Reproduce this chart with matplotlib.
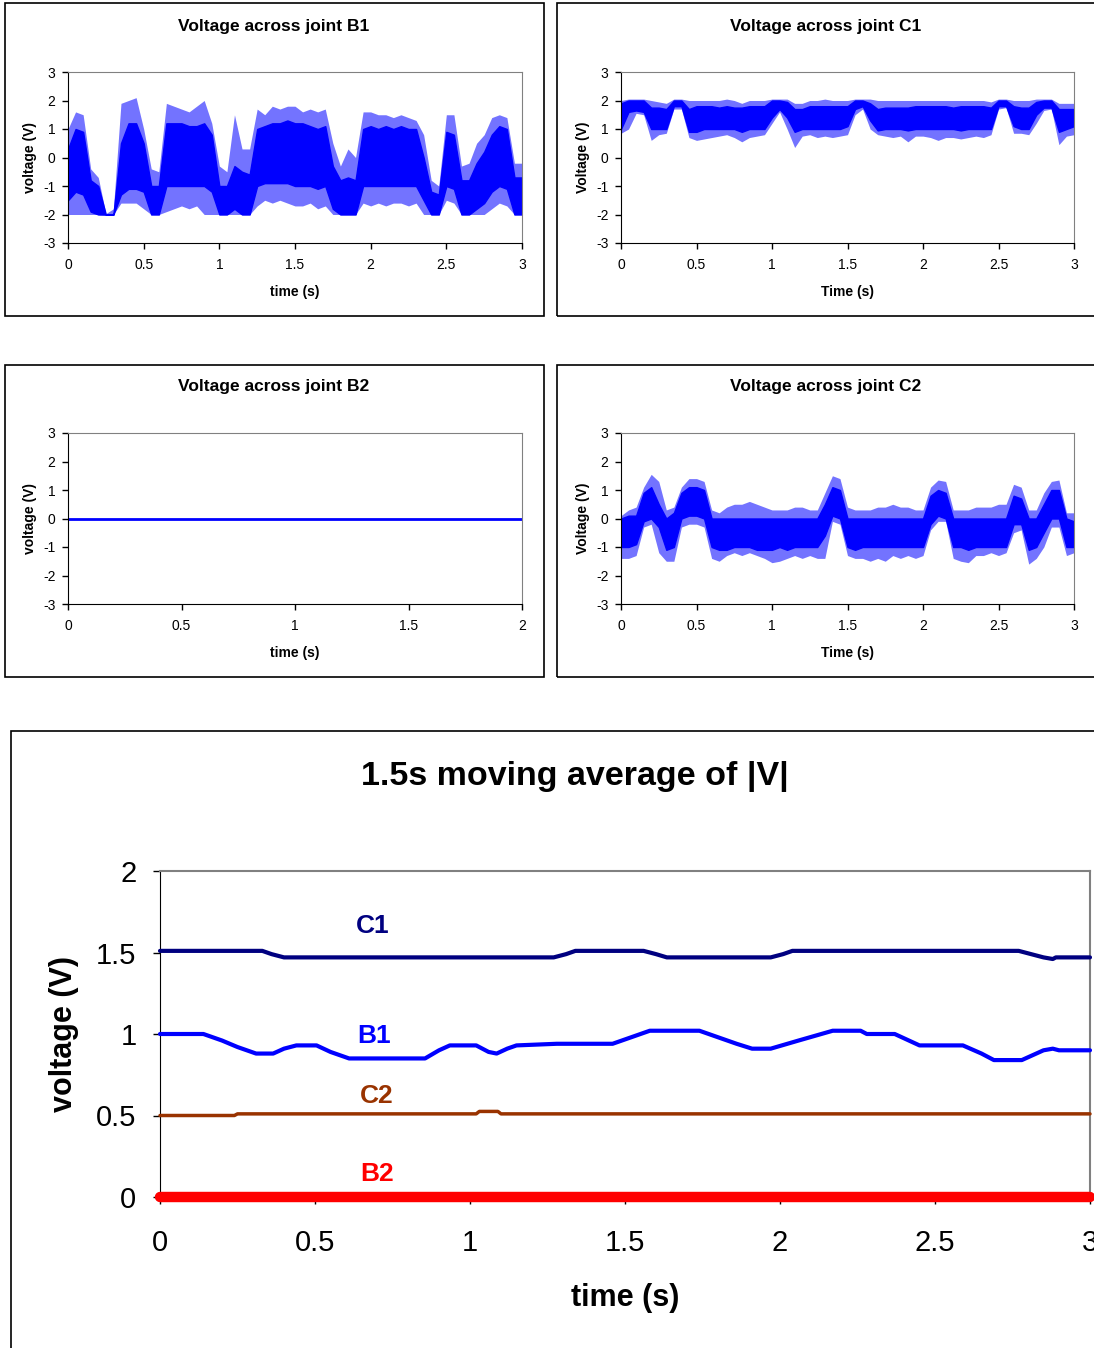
import matplotlib
matplotlib.use("Agg")
import matplotlib.pyplot as plt
import numpy as np
from matplotlib.patches import Rectangle
from matplotlib.ticker import FormatStrFormatter, MultipleLocator

plt.rcParams["font.family"] = ["Liberation Sans", "DejaVu Sans"]

# --- raw traces, read as envelopes every 0.05 s: spike top, dense band top/bottom, spike bottom ---
T_RAW = [round(0.05 * i, 2) for i in range(61)]

B1_HI = [1.0, 1.6, 1.5, -0.4, -0.7, -1.97, -1.8, 1.9, 2.0, 2.1, 1.0, -0.4, -0.5, 1.9, 1.8, 1.7,
         1.6, 1.8, 2.0, 1.2, -0.3, -0.5, 1.5, 0.3, 0.3, 1.7, 1.5, 1.8, 1.7, 1.8, 1.8, 1.6,
         1.7, 1.6, 1.7, 0.5, -0.3, 0.3, 0.0, 1.6, 1.6, 1.5, 1.5, 1.4, 1.5, 1.4, 1.3, 0.8,
         -0.8, -1.0, 1.5, 1.5, -0.3, -0.2, 0.5, 0.8, 1.4, 1.5, 1.4, -0.2, -0.2]
B1_CHI = [0.3, 1.0, 0.9, -0.8, -1.0, -2.0, -2.0, 0.5, 1.2, 1.2, 0.5, -1.0, -1.0, 1.2, 1.2, 1.2,
          1.1, 1.1, 1.2, 0.8, -1.0, -1.0, -0.3, -0.5, -0.6, 1.0, 1.1, 1.2, 1.2, 1.3, 1.2, 1.2,
          1.1, 1.0, 1.1, -0.3, -0.8, -0.7, -0.8, 1.0, 1.1, 1.0, 1.1, 1.0, 1.1, 1.0, 1.0, 0.0,
          -1.2, -1.3, 0.9, 0.8, -0.8, -0.8, -0.2, 0.2, 0.8, 1.1, 1.0, -0.7, -0.7]
B1_CLO = [-1.5, -1.2, -1.3, -1.9, -2.0, -2.0, -2.0, -1.3, -1.1, -1.1, -1.2, -2.0, -2.0, -1.0, -1.0, -1.0,
          -1.0, -1.0, -1.0, -1.2, -2.0, -2.0, -1.8, -2.0, -2.0, -1.0, -0.9, -0.9, -0.9, -0.9, -1.0, -1.0,
          -1.0, -1.1, -1.0, -1.8, -2.0, -2.0, -2.0, -1.0, -1.0, -1.0, -1.0, -1.0, -1.0, -1.0, -1.0, -1.5,
          -2.0, -2.0, -1.0, -1.1, -2.0, -2.0, -1.8, -1.6, -1.2, -1.0, -1.1, -2.0, -2.0]
B1_LO = [-2.0, -2.0, -2.0, -2.0, -2.0, -2.03, -2.0, -1.6, -1.6, -1.6, -1.8, -2.0, -2.0, -1.9, -1.8, -1.7,
         -1.8, -1.7, -2.0, -2.0, -2.0, -2.0, -2.0, -2.0, -2.0, -1.7, -1.5, -1.6, -1.5, -1.6, -1.7, -1.7,
         -1.6, -1.8, -1.7, -2.0, -2.0, -2.0, -2.0, -1.6, -1.7, -1.6, -1.7, -1.6, -1.6, -1.7, -1.6, -2.0,
         -2.0, -2.0, -1.5, -1.6, -2.0, -2.0, -2.0, -2.0, -1.8, -1.6, -1.7, -2.0, -2.0]

C1_HI = [2.0, 2.05, 2.05, 2.05, 2.0, 1.95, 1.9, 2.05, 2.05, 2.0, 2.0, 2.0, 2.0, 2.0, 2.05, 2.0,
         1.9, 2.0, 2.0, 2.0, 2.05, 2.05, 2.05, 1.9, 1.9, 2.0, 2.0, 2.05, 2.0, 2.0, 2.0, 2.05,
         2.05, 2.05, 2.0, 2.0, 2.0, 2.0, 2.0, 2.0, 2.0, 2.0, 2.0, 2.0, 2.0, 2.0, 2.0, 2.0,
         2.0, 1.95, 2.05, 2.05, 2.0, 2.0, 2.0, 2.05, 2.05, 2.05, 1.9, 1.9, 1.9]
C1_CHI = [1.9, 2.0, 2.0, 2.0, 1.75, 1.75, 1.7, 2.0, 2.0, 1.7, 1.8, 1.8, 1.8, 1.75, 1.8, 1.75,
          1.75, 1.8, 1.8, 1.8, 2.0, 2.0, 1.95, 1.7, 1.7, 1.8, 1.8, 1.8, 1.8, 1.8, 1.8, 2.0,
          2.0, 1.9, 1.7, 1.75, 1.75, 1.75, 1.75, 1.8, 1.8, 1.8, 1.8, 1.8, 1.75, 1.8, 1.8, 1.8,
          1.8, 1.75, 2.0, 2.0, 1.8, 1.75, 1.75, 1.95, 2.0, 2.0, 1.7, 1.7, 1.7]
C1_CLO = [1.0, 1.6, 1.65, 1.6, 1.0, 1.0, 1.0, 1.8, 1.8, 0.9, 0.9, 1.0, 1.0, 1.0, 1.0, 1.0,
          0.9, 1.0, 1.0, 1.0, 1.4, 1.7, 1.4, 0.9, 1.0, 1.0, 1.0, 1.0, 1.0, 1.0, 1.1, 1.7,
          1.8, 1.3, 0.95, 1.0, 1.0, 1.0, 0.95, 1.0, 1.0, 1.0, 1.0, 1.0, 1.0, 0.95, 1.0, 1.0,
          1.0, 1.0, 1.8, 1.8, 1.1, 1.0, 1.0, 1.5, 1.75, 1.75, 0.9, 1.0, 1.1]
C1_LO = [0.85, 1.0, 1.55, 1.5, 0.6, 0.8, 0.85, 1.7, 1.7, 0.7, 0.6, 0.65, 0.7, 0.75, 0.8, 0.7,
         0.55, 0.7, 0.75, 0.8, 1.2, 1.6, 1.0, 0.35, 0.75, 0.8, 0.7, 0.75, 0.7, 0.75, 0.8, 1.5,
         1.7, 1.0, 0.8, 0.75, 0.7, 0.75, 0.55, 0.75, 0.75, 0.7, 0.6, 0.7, 0.7, 0.65, 0.7, 0.75,
         0.7, 0.8, 1.7, 1.75, 0.85, 0.85, 0.8, 1.2, 1.65, 1.7, 0.45, 0.75, 0.8]

C2_HI = [0.1, 0.3, 0.4, 1.1, 1.55, 1.3, 0.3, 0.4, 1.1, 1.4, 1.4, 1.3, 0.3, 0.2, 0.4, 0.5,
         0.5, 0.6, 0.5, 0.4, 0.3, 0.3, 0.3, 0.4, 0.4, 0.3, 0.3, 0.9, 1.5, 1.4, 0.4, 0.3,
         0.3, 0.3, 0.4, 0.4, 0.5, 0.4, 0.4, 0.3, 0.3, 1.1, 1.35, 1.3, 0.3, 0.3, 0.3, 0.4,
         0.4, 0.4, 0.5, 0.5, 1.2, 1.1, 0.3, 0.3, 0.9, 1.3, 1.35, 0.2, 0.2]
C2_CHI = [0.0, 0.1, 0.1, 0.9, 1.1, 0.5, 0.0, 0.2, 0.9, 1.1, 1.1, 1.0, 0.0, 0.0, 0.0, 0.0,
          0.0, 0.0, 0.0, 0.0, 0.0, 0.0, 0.0, 0.0, 0.0, 0.0, 0.0, 0.5, 1.1, 1.0, 0.0, 0.0,
          0.0, 0.0, 0.0, 0.0, 0.0, 0.0, 0.0, 0.0, 0.0, 0.8, 1.0, 0.9, 0.0, 0.0, 0.0, 0.0,
          0.0, 0.0, 0.0, 0.0, 0.8, 0.7, 0.0, 0.0, 0.5, 1.0, 1.0, 0.0, -0.1]
C2_CLO = [-1.0, -1.0, -0.9, -0.1, 0.0, -0.3, -1.1, -1.0, 0.0, 0.1, 0.1, 0.0, -1.0, -1.1, -1.1, -1.0,
          -1.0, -1.0, -1.1, -1.1, -1.1, -1.0, -1.1, -1.0, -1.0, -1.0, -1.0, -0.6, 0.1, 0.0, -1.0, -1.1,
          -1.0, -1.0, -1.0, -1.0, -1.0, -1.0, -1.0, -1.0, -1.0, -0.2, 0.1, 0.0, -1.0, -1.0, -1.1, -1.0,
          -1.0, -1.0, -1.0, -1.0, -0.2, -0.2, -1.1, -1.0, -0.5, 0.0, 0.0, -1.0, -1.0]
C2_LO = [-1.4, -1.4, -1.3, -0.3, -0.2, -1.2, -1.5, -1.5, -0.3, -0.2, -0.2, -0.3, -1.4, -1.5, -1.3, -1.2,
         -1.3, -1.2, -1.3, -1.4, -1.55, -1.5, -1.4, -1.3, -1.4, -1.3, -1.4, -1.4, -0.1, -0.2, -1.3, -1.4,
         -1.4, -1.5, -1.4, -1.5, -1.3, -1.4, -1.3, -1.4, -1.3, -0.4, -0.1, -0.1, -1.4, -1.5, -1.55, -1.3,
         -1.3, -1.2, -1.3, -1.2, -0.5, -0.4, -1.6, -1.4, -1.0, -0.3, -0.3, -1.3, -1.2]

B2_T = [0, 2]
B2_V = [0, 0]

# --- 1.5 s moving averages of |V| ---
MA_C1_T = [0, 0.33, 0.36, 0.40, 1.27, 1.31, 1.34, 1.56, 1.60, 1.635, 1.97, 2.01, 2.04,
           2.77, 2.81, 2.85, 2.88, 2.89, 3.0]
MA_C1_V = [1.51, 1.51, 1.49, 1.47, 1.47, 1.49, 1.51, 1.51, 1.49, 1.47, 1.47, 1.49, 1.51,
           1.51, 1.49, 1.47, 1.46, 1.47, 1.47]
MA_B1_T = [0, 0.14, 0.2, 0.25, 0.31, 0.365, 0.40, 0.44, 0.505, 0.55, 0.61, 0.855, 0.90, 0.935,
           1.02, 1.06, 1.086, 1.12, 1.15, 1.28, 1.46, 1.52, 1.58, 1.74, 1.80, 1.86, 1.91, 1.97,
           2.06, 2.17, 2.26, 2.28, 2.37, 2.45, 2.59, 2.65, 2.69, 2.78, 2.85, 2.88, 2.90, 3.0]
MA_B1_V = [1.0, 1.0, 0.96, 0.92, 0.88, 0.88, 0.91, 0.93, 0.93, 0.89, 0.85, 0.85, 0.90, 0.93,
           0.93, 0.89, 0.88, 0.91, 0.93, 0.94, 0.94, 0.98, 1.02, 1.02, 0.98, 0.94, 0.91, 0.91,
           0.96, 1.02, 1.02, 1.00, 1.00, 0.93, 0.93, 0.88, 0.84, 0.84, 0.90, 0.91, 0.90, 0.90]
MA_C2_T = [0, 0.15, 0.24, 0.25, 1.02, 1.03, 1.09, 1.10, 3.0]
MA_C2_V = [0.50, 0.50, 0.50, 0.51, 0.51, 0.525, 0.525, 0.51, 0.51]
MA_B2_T = [0, 3.0]
MA_B2_V = [0, 0]

SERIES_LABELS = ["C1", "B1", "C2", "B2"]
SERIES_COLORS = ["#000080", "#0000FF", "#993300", "#FF0000"]
LABEL_POS = [(0.685, 1.66), (0.69, 0.99), (0.70, 0.62), (0.70, 0.14)]

W, H = 1094, 1348
fig = plt.figure(figsize=(W / 100, H / 100), dpi=100)


def fx(px):
    return px / W


def fy(py):
    return 1 - py / H


def panel_box(x0, y0, x1, y1):
    fig.add_artist(Rectangle((fx(x0), fy(y1)), fx(x1 - x0), (y1 - y0) / H, fill=False,
                             edgecolor="black", lw=1.2, transform=fig.transFigure))


def small_axes(x0, y0, x1, y1, xmax, title, tcx, ylabel, xlabel):
    ax = fig.add_axes([fx(x0), fy(y1), fx(x1 - x0), (y1 - y0) / H])
    ax.set_xlim(0, xmax)
    ax.set_ylim(-3, 3)
    ax.xaxis.set_major_locator(MultipleLocator(0.5))
    ax.yaxis.set_major_locator(MultipleLocator(1))
    ax.xaxis.set_major_formatter(FormatStrFormatter("%g"))
    ax.yaxis.set_major_formatter(FormatStrFormatter("%g"))
    ax.tick_params(direction="out", length=4, width=1, labelsize=10, pad=5)
    ax.tick_params(axis="x", pad=7)
    for s in ("top", "right"):
        ax.spines[s].set_color("#808080")
    for s in ("left", "bottom"):
        ax.spines[s].set_color("black")
    ax.set_ylabel(ylabel, fontsize=10, fontweight="bold", labelpad=4)
    ax.set_xlabel(xlabel, fontsize=10, fontweight="bold", labelpad=9)
    fig.text(fx(tcx), fy(y0 - 46), title, ha="center", va="center", fontsize=12.5, fontweight="bold")
    return ax


def draw_trace(ax, hi, chi, clo, lo):
    # spike envelope drawn lighter, the dense band solid
    ax.fill_between(T_RAW, lo, hi, color="#0000FF", alpha=0.55, lw=0)
    ax.fill_between(T_RAW, clo, chi, facecolor="#0000FF", edgecolor="#0000FF", lw=1.0)


panel_box(5, 3, 544, 316)
panel_box(557, 3, 1100, 316)
panel_box(5, 365, 544, 677)
panel_box(557, 365, 1100, 677)
panel_box(11, 731, 1110, 1360)

ax = small_axes(68, 72, 522, 243, 3, "Voltage across joint B1", 274, "voltage (V)", "time (s)")
draw_trace(ax, B1_HI, B1_CHI, B1_CLO, B1_LO)

ax = small_axes(621, 72, 1074, 243, 3, "Voltage across joint C1", 826, "Voltage (V)", "Time (s)")
draw_trace(ax, C1_HI, C1_CHI, C1_CLO, C1_LO)

ax = small_axes(68, 433, 522, 604, 2, "Voltage across joint B2", 274, "voltage (V)", "time (s)")
ax.plot(B2_T, B2_V, color="#0000FF", lw=2)

ax = small_axes(621, 433, 1074, 604, 3, "Voltage across joint C2", 826, "Voltage (V)", "Time (s)")
draw_trace(ax, C2_HI, C2_CHI, C2_CLO, C2_LO)

# --- bottom chart ---
ax = fig.add_axes([fx(160), fy(1197), fx(930), 326 / H])
ax.set_xlim(0, 3)
ax.set_ylim(0, 2)
ax.xaxis.set_major_locator(MultipleLocator(0.5))
ax.yaxis.set_major_locator(MultipleLocator(0.5))
ax.xaxis.set_major_formatter(FormatStrFormatter("%g"))
ax.yaxis.set_major_formatter(FormatStrFormatter("%g"))
ax.tick_params(direction="out", length=5, width=1, labelsize=21, pad=12)
ax.tick_params(axis="x", pad=18)
for s in ("top", "right"):
    ax.spines[s].set_color("#808080")
    ax.spines[s].set_linewidth(1.5)

ma_series = [(MA_C1_T, MA_C1_V, 3.0), (MA_B1_T, MA_B1_V, 3.0), (MA_C2_T, MA_C2_V, 2.5),
             (MA_B2_T, MA_B2_V, 7.5)]
for (t, v, lw), col, lab, (lx, ly) in zip(ma_series, SERIES_COLORS, SERIES_LABELS, LABEL_POS):
    ax.plot(t, v, color=col, lw=lw, solid_capstyle="round", clip_on=False, zorder=3)
    ax.text(lx, ly, lab, color=col, fontsize=19, fontweight="bold", ha="center", va="center")

ax.set_xlabel("time (s)", fontsize=22, fontweight="bold", labelpad=19)
ax.set_ylabel("voltage (V)", fontsize=22, fontweight="bold", labelpad=12)
fig.text(fx(575), fy(777), "1.5s moving average of |V|", ha="center", va="center",
         fontsize=24.5, fontweight="bold")

fig.savefig("out.png", dpi=100)
